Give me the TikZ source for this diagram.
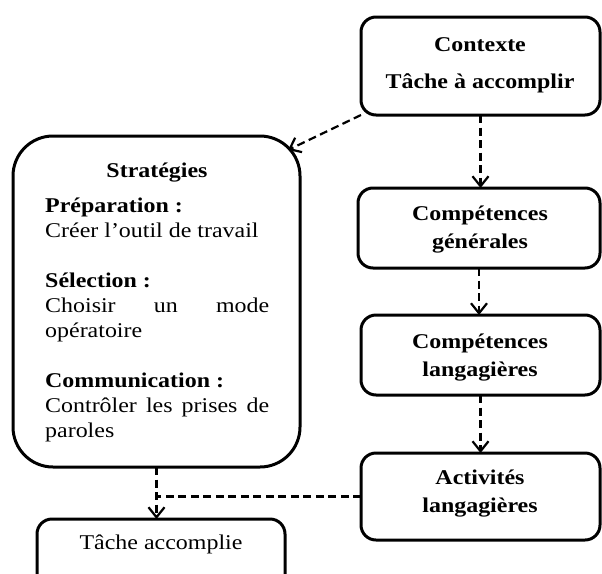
\documentclass[tikz,border=0pt]{standalone}
\usepackage{fontspec}
\setmainfont{Liberation Serif}[FakeStretch=1.14]
\usetikzlibrary{arrows.meta,calc}
\begin{document}
\begin{tikzpicture}[x=1pt,y=-1pt,
  box/.style={draw,line width=3pt,rounded corners=15pt,inner sep=0pt,outer sep=0pt},
  txt/.style={font=\fontsize{21}{25}\selectfont,inner sep=0pt,anchor=base},
  btxt/.style={font=\fontsize{21}{25}\selectfont\bfseries,inner sep=0pt,anchor=base},
  ltxt/.style={font=\fontsize{21}{25}\selectfont,inner sep=0pt,anchor=base west},
  lbtxt/.style={font=\fontsize{21}{25}\selectfont\bfseries,inner sep=0pt,anchor=base west},
  darrow/.style={line width=2.2pt,dash pattern=on 8pt off 4.5pt,-{Straight Barb[length=10pt,width=16pt]}},
  dline/.style={line width=2.2pt,dash pattern=on 8pt off 4.5pt}]
\useasboundingbox (0,0) rectangle (602,573);
\clip (0,0) rectangle (602,573);
% boxes
\node[box,minimum width=239pt,minimum height=98pt] (ctx) at (480.5,66) {};
\node[box,minimum width=242pt,minimum height=80pt] (cg) at (479,228) {};
\node[box,minimum width=239pt,minimum height=80pt] (cl) at (480.5,355) {};
\node[box,minimum width=239pt,minimum height=87pt] (al) at (480.5,496.5) {};
\node[box,rounded corners=40pt,minimum width=287pt,minimum height=331pt] (strat) at (156.5,301.5) {};
\node[box,minimum width=248pt,minimum height=71pt] (tache) at (161,554.5) {};
% texts
\node[btxt] (t1) at (480,51) {Contexte};
\node[btxt] (t2) at (480,88) {Tâche à accomplir};
\node[btxt] (t3) at (480,220) {Compétences};
\node[btxt] (t4) at (480,248) {générales};
\node[btxt] (t5) at (480,348) {Compétences};
\node[btxt] (t6) at (480,376) {langagières};
\node[btxt] (t7) at (480,484) {Activités};
\node[btxt] (t8) at (480,512) {langagières};
\node[btxt] (s0) at (157,177) {Stratégies};
\node[lbtxt] (s1) at (45,212) {Préparation :};
\node[ltxt] (s2) at (45,237) {Créer l’outil de travail};
\node[lbtxt] (s3) at (45,287) {Sélection :};
\node[ltxt] (s4) at (45,312) {\parbox[t]{224pt}{\hyphenpenalty=10000 \tolerance=10000 Choisir un mode opératoire}};
\node[lbtxt] (s5) at (45,387) {Communication :};
\node[ltxt] (s6) at (45,412) {\parbox[t]{224pt}{\hyphenpenalty=10000 \tolerance=10000 Contrôler les prises de paroles}};
\node[txt] (t9) at (161,549) {Tâche accomplie};
% connectors
\coordinate (stratc) at (288,150);
\draw[darrow] (ctx.south west) -- (stratc);
\draw[darrow] (ctx.south) -- (ctx.south |- cg.north);
\draw[darrow] (cg.south) -- (cg.south |- cl.north);
\draw[darrow] (cl.south) -- (cl.south |- al.north);
\draw[darrow] (strat.south) -- (strat.south |- tache.north);
\draw[dline] (al.west) -- (al.west -| strat.south);
\end{tikzpicture}
\end{document}
